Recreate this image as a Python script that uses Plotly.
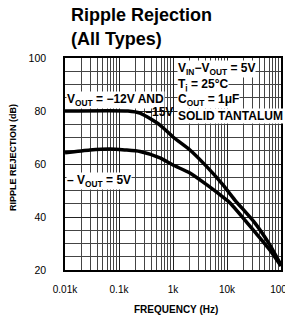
import plotly.graph_objects as go

# ---- data ----
freq_neg = [10, 147, 245, 574, 1000, 2060, 4260, 8430, 14000, 33000, 62500, 100000]
rr_neg = [80.0, 80.0, 79.2, 74.7, 70.2, 65.3, 58.9, 52.1, 46.4, 37.7, 29.4, 21.9]

freq_5v = [10, 29, 68, 129, 245, 574, 1000, 2060, 4260, 8430, 11400, 33000, 62500, 100000]
rr_5v = [64.2, 65.3, 65.7, 65.3, 64.7, 62.3, 59.6, 56.6, 52.1, 47.5, 45.3, 34.3, 27.5, 21.5]

x_tickvals = [10, 100, 1000, 10000, 100000]
x_ticktext = ["0.01k", "0.1k", "1k", "10k", "100k"]
y_tickvals = [20, 40, 60, 80, 100]

x_minor = [m * 10 ** d for d in range(1, 5) for m in range(2, 10)]

# ---- layout geometry (pixels, in page coordinates) ----
OFF = 8  # default body margin of the html page
W, H = 293 - OFF, 323 - 2 * OFF
PL, PR, PT, PB = 65, 281, 58, 270  # plot area edges on the page
L, T = PL - OFF, PT - OFF
R = W - (PR - OFF)
B = H - (PB - OFF)
PW, PH = PR - PL, PB - PT


def px(xp):
    return (xp - PL) / PW


def py(yp):
    return (PB - yp) / PH


BOLD_FONT = "Liberation Sans, Arial"

fig = go.Figure()
fig.add_trace(go.Scatter(x=freq_neg, y=rr_neg, mode="lines",
                         line=dict(color="black", width=3.5, shape="spline", smoothing=0.6),
                         hoverinfo="skip", showlegend=False))
fig.add_trace(go.Scatter(x=freq_5v, y=rr_5v, mode="lines",
                         line=dict(color="black", width=3.5, shape="spline", smoothing=0.6),
                         hoverinfo="skip", showlegend=False))

ann_font = dict(family=BOLD_FONT, size=12, color="black")
title_font = dict(family=BOLD_FONT, size=18, color="black")

annotations = [
    dict(text="<b>Ripple Rejection</b>", x=px(69), y=py(15),
         xanchor="left", yanchor="middle", font=title_font),
    dict(text="<b>(All Types)</b>", x=px(69), y=py(39),
         xanchor="left", yanchor="middle", font=title_font),
    dict(text="<b>RIPPLE REJECTION (dB)</b>", x=px(13), y=py(158), textangle=-90,
         xanchor="center", yanchor="middle",
         font=dict(family=BOLD_FONT, size=9, color="black")),
    dict(text="<b>FREQUENCY (Hz)</b>", x=px(176), y=py(309),
         xanchor="center", yanchor="middle",
         font=dict(family=BOLD_FONT, size=10, color="black")),
    dict(text="<b>V<sub>IN</sub>−V<sub>OUT</sub> = 5V</b>", x=px(177), y=py(69),
         xanchor="left", yanchor="middle", font=ann_font, bgcolor="white", borderpad=0),
    dict(text="<b>T<sub>j</sub> = 25°C</b>", x=px(177), y=py(85),
         xanchor="left", yanchor="middle", font=ann_font, bgcolor="white", borderpad=0),
    dict(text="<b>V<sub>OUT</sub> = −12V AND</b>", x=px(65.5), y=py(100),
         xanchor="left", yanchor="middle", font=ann_font, bgcolor="white", borderpad=0),
    dict(text="<b>C<sub>OUT</sub> = 1μF</b>", x=px(177), y=py(100),
         xanchor="left", yanchor="middle", font=ann_font, bgcolor="white", borderpad=0),
    dict(text="<b>−15V</b>", x=px(143), y=py(112),
         xanchor="left", yanchor="middle", font=ann_font),
    dict(text="<b>SOLID TANTALUM</b>", x=px(177), y=py(116),
         xanchor="left", yanchor="middle", font=ann_font, bgcolor="white", borderpad=0),
    dict(text="<b>– V<sub>OUT</sub> = 5V</b>", x=px(65.5), y=py(181),
         xanchor="left", yanchor="middle", font=ann_font, bgcolor="white", borderpad=0),
]
for a in annotations:
    a.update(xref="paper", yref="paper", showarrow=False)

fig.update_layout(
    width=W, height=H,
    margin=dict(l=L, r=R, t=T, b=B),
    paper_bgcolor="white", plot_bgcolor="white",
    annotations=annotations,
    xaxis=dict(
        type="log", range=[1, 5], automargin=False,
        tickvals=x_tickvals, ticktext=x_ticktext, ticklabeloverflow="allow",
        showgrid=True, gridcolor="#222", gridwidth=1,
        minor=dict(tickvals=x_minor, showgrid=True, gridcolor="#444", gridwidth=1),
        showline=True, linecolor="black", linewidth=1.5, mirror=True,
        ticks="", ticklabelstandoff=9,
        tickfont=dict(family=BOLD_FONT, size=10, color="black"),
        zeroline=False,
    ),
    yaxis=dict(
        range=[20, 100], automargin=False,
        tickvals=y_tickvals,
        showgrid=True, gridcolor="#222", gridwidth=1,
        minor=dict(dtick=5, showgrid=True, gridcolor="#444", gridwidth=1),
        showline=True, linecolor="black", linewidth=1.5, mirror=True,
        ticks="", ticklabelstandoff=15,
        tickfont=dict(family=BOLD_FONT, size=10.5, color="black"),
        zeroline=False,
    ),
)

fig.write_html("out.html")
